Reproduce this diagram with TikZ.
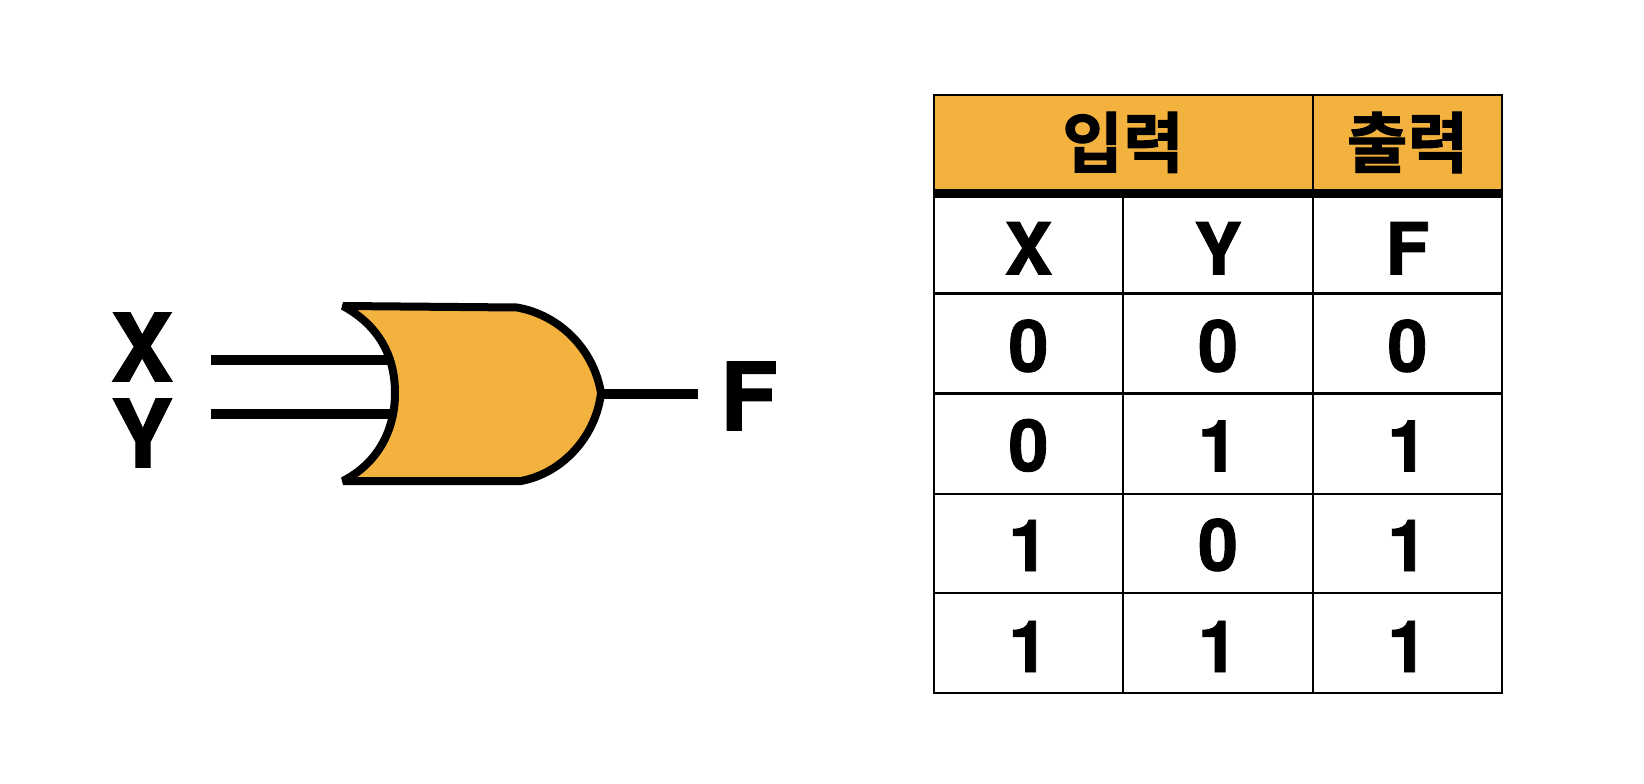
\documentclass[tikz,border=0pt]{standalone}
\usepackage{fontspec}
\setmainfont{TeX Gyre Heros}[BoldFeatures={FakeBold=1.2}]
\newfontfamily\krfont{Noto Sans CJK KR Bold}[FakeBold=1.5]
\tikzset{
 x=1pt,y=-1pt,
 gatefill/.style={fill=gold,draw=black,line width=8pt,line join=bevel},
 wire/.style={draw=black,line width=9.5pt},
 biglabel/.style={inner sep=0pt,font=\fontsize{94}{94}\selectfont\bfseries},
 cell/.style={draw=black,line width=2pt,minimum width=189.5pt,minimum height=99.5pt,inner sep=0pt,anchor=center,font=\fontsize{72}{72}\selectfont\bfseries},
 headcell/.style={cell,fill=gold,minimum height=99pt,text depth=9pt,font=\fontsize{66}{66}\selectfont\krfont},
}
\definecolor{gold}{HTML}{F3B23E}
\begin{document}
\begin{tikzpicture}
\useasboundingbox (0,0) rectangle (1644,784);
% gate
\draw[gatefill] (343,306) -- (517,307.5)
  .. controls (560,315) and (594,350) .. (601,393)
  .. controls (596,436) and (563,473) .. (521,481)
  -- (343,481)
  .. controls (378,463) and (395,430) .. (395,393)
  .. controls (395,355) and (378,325) .. (343,306) -- cycle;
\coordinate (xs) at (211,360); \coordinate (xe) at (387,360);
\coordinate (ys) at (211,414); \coordinate (ye) at (391,414);
\coordinate (os) at (603,394); \coordinate (oe) at (698,394);
\draw[wire] (xs) -- (xe);
\draw[wire] (ys) -- (ye);
\draw[wire] (os) -- (oe);
\node[biglabel] (lx) at (142,347) {X};
\node[biglabel] (ly) at (142,433) {Y};
\node[biglabel] (lf) at (749,396) {F};
% table
\node[headcell,minimum width=379pt] (h1) at (1123,144) {입력};
\node[headcell,minimum width=189.5pt] (h2) at (1407.5,144) {출력};
\foreach \nm/\cy/\th/\a/\b/\c in {r0/243.5/62/X/Y/F,r1/343.5/57/0/0/0,r2/444/55/0/1/1,r3/543.5/55/1/0/1,r4/643/58/1/1/1}{
  \node[cell,text height=\th pt] (\nm a) at (1028.5,\cy) {\a};
  \node[cell,text height=\th pt] (\nm b) at (1218,\cy) {\b};
  \node[cell,text height=\th pt] (\nm c) at (1407.5,\cy) {\c};
}
\draw[line width=8.5pt] ([yshift=1pt]h1.south west) -- ([yshift=1pt]h2.south east);
\end{tikzpicture}
\end{document}
